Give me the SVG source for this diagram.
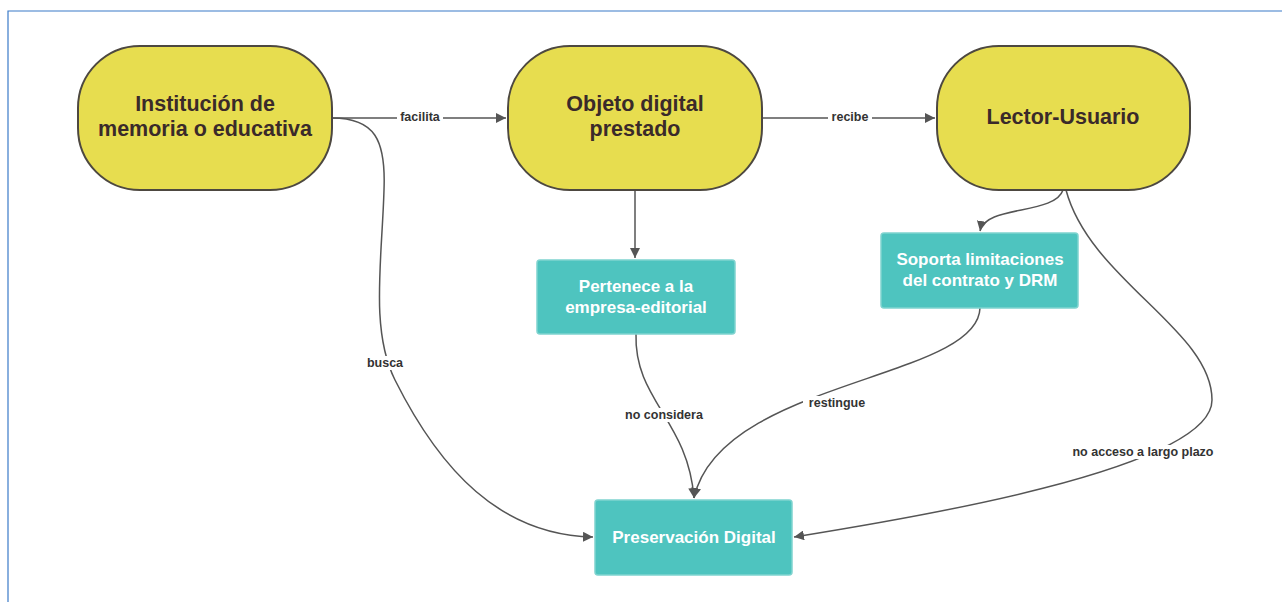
<svg xmlns="http://www.w3.org/2000/svg" width="1282" height="602" viewBox="0 0 1282 602">
<style>
.term{fill:#e7dd4f;stroke:#4d4840;stroke-width:2}
.proc{fill:#4ec4bf;stroke:#7fd3cf;stroke-width:1.5}
.tt{font-family:"Liberation Sans",Arial,sans-serif;font-weight:bold;font-size:21.5px;fill:#3a2a2a;text-anchor:middle}
.pt{font-family:"Liberation Sans",Arial,sans-serif;font-weight:bold;font-size:17px;fill:#ffffff;text-anchor:middle}
.edge{fill:none;stroke:#555;stroke-width:1.5}
.lbl{font-family:"Liberation Sans",Arial,sans-serif;font-weight:bold;font-size:12.5px;fill:#333;text-anchor:middle}
.lblbg{fill:#fff}
</style>
<defs>
<marker id="arr" viewBox="0 0 10 10" refX="10" refY="5" markerWidth="10" markerHeight="10" markerUnits="userSpaceOnUse" orient="auto">
<path d="M0,0 L10,5 L0,10 z" fill="#555"/>
</marker>
</defs>
<rect width="1282" height="602" fill="#fff"/>
<path d="M8,602 V11 H1282" fill="none" stroke="#3b7bc8" stroke-width="1.2"/>
<g id="connectors">
<path class="edge" d="M332,118 H506" marker-end="url(#arr)"/>
<path class="edge" d="M762,118 H935" marker-end="url(#arr)"/>
<path class="edge" d="M635,190 V258" marker-end="url(#arr)"/>
<path class="edge" d="M332,118 C375,118 386,140 384,190 C382,260 370,330 395,380 C440,470 500,535 593,537" marker-end="url(#arr)"/>
<path class="edge" d="M636,334 C634,400 688,420 694,498" marker-end="url(#arr)"/>
<path class="edge" d="M980,308 C978,380 720,380 694,498" marker-end="url(#arr)"/>
<path class="edge" d="M1063,190 C1055,215 985,205 980,231" marker-end="url(#arr)"/>
<path class="edge" d="M1066,190 C1090,280 1212,330 1212,400 C1212,470 900,520 794,537" marker-end="url(#arr)"/>
<rect class="lblbg" x="397" y="110" width="46" height="14"/>
<text class="lbl" x="420" y="121">facilita</text>
<rect class="lblbg" x="828" y="110" width="44" height="14"/>
<text class="lbl" x="850" y="121">recibe</text>
<rect class="lblbg" x="363" y="356" width="44" height="14"/>
<text class="lbl" x="385" y="367">busca</text>
<rect class="lblbg" x="620" y="408" width="88" height="14"/>
<text class="lbl" x="664" y="419">no considera</text>
<rect class="lblbg" x="803" y="396" width="68" height="14"/>
<text class="lbl" x="837" y="407">restingue</text>
<rect class="lblbg" x="1068" y="445" width="150" height="14"/>
<text class="lbl" x="1143" y="456">no acceso a largo plazo</text>
</g>
<g id="institucion">
<rect class="term" x="78" y="46" width="254" height="144" rx="62" ry="62"/>
<text class="tt" x="205" y="111">Institución de</text>
<text class="tt" x="205" y="136">memoria o educativa</text>
</g>
<g id="objeto">
<rect class="term" x="508" y="46" width="254" height="144" rx="62" ry="62"/>
<text class="tt" x="635" y="111">Objeto digital</text>
<text class="tt" x="635" y="136">prestado</text>
</g>
<g id="lector">
<rect class="term" x="937" y="46" width="253" height="144" rx="62" ry="62"/>
<text class="tt" x="1063" y="124">Lector-Usuario</text>
</g>
<g id="pertenece">
<rect class="proc" x="537" y="260" width="198" height="74" rx="3"/>
<text class="pt" x="636" y="292">Pertenece a la</text>
<text class="pt" x="636" y="313">empresa-editorial</text>
</g>
<g id="soporta">
<rect class="proc" x="881" y="233" width="197" height="75" rx="3"/>
<text class="pt" x="980" y="265">Soporta limitaciones</text>
<text class="pt" x="980" y="286">del contrato y DRM</text>
</g>
<g id="preservacion">
<rect class="proc" x="595" y="500" width="197" height="75" rx="3"/>
<text class="pt" x="694" y="543">Preservación Digital</text>
</g>
</svg>
